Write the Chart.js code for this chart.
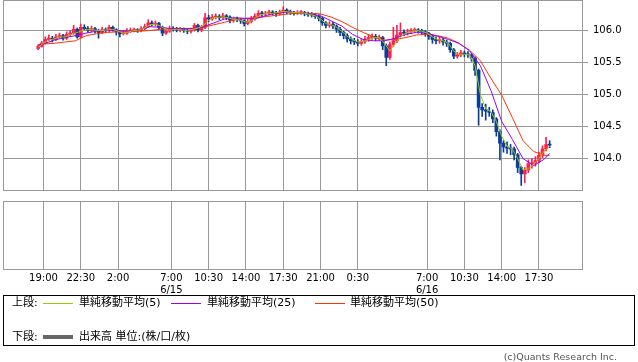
<!DOCTYPE html>
<html>
<head>
<meta charset="utf-8">
<script src="https://cdn.jsdelivr.net/npm/chart.js@4"></script>
<style>
body { margin: 0; width: 638px; height: 362px; background: #fff; position: relative; overflow: hidden; font-family: "DejaVu Sans", "Noto Sans CJK JP", sans-serif; }
canvas { position: absolute; left: 0; }
#upper { top: 0; }
#lower { top: 196px; }
#legend { position: absolute; left: 3px; top: 295px; width: 630px; height: 49px; border: 1px solid #000; }
#legend span { position: absolute; font-size: 11px; line-height: 14px; white-space: nowrap; color: #000; }
#legend i { position: absolute; display: block; width: 30px; height: 1px; }
#copy { position: absolute; right: 21px; top: 351px; font-size: 9.5px; line-height: 12px; color: #555; white-space: nowrap; }
</style>
</head>
<body>
<canvas id="upper" width="638" height="193"></canvas>
<canvas id="lower" width="638" height="100"></canvas>
<div id="legend">
  <span style="left:8px;top:0">上段:</span>
  <i style="left:39px;top:7px;background:#99cc00"></i>
  <span style="left:75px;top:0">単純移動平均(5)</span>
  <i style="left:167px;top:7px;background:#9900ff"></i>
  <span style="left:203px;top:0">単純移動平均(25)</span>
  <i style="left:311px;top:7px;background:#ff3300"></i>
  <span style="left:346px;top:0">単純移動平均(50)</span>
  <span style="left:8px;top:34px">下段:</span>
  <i style="left:39px;top:39px;height:4px;background:#666"></i>
  <span style="left:75px;top:34px">出来高 単位:(株/口/枚)</span>
</div>
<div id="copy">(c)Quants Research Inc.</div>
<script>
// 時間軸 (6/14 0:00 からの時間)
const xMin = 15.2, xMax = 69.63;
const tickHours = [19, 22.5, 26, 31, 34.5, 38, 41.5, 45, 48.5, 55, 58.5, 62, 65.5];
const tickLabels = ['19:00', '22:30', '2:00', ['7:00', '6/15'], '10:30', '14:00', '17:30', '21:00', '0:30', ['7:00', '6/16'], '10:30', '14:00', '17:30'];
const priceTicks = [104.0, 104.5, 105.0, 105.5, 106.0];
const priceMin = 103.493, priceMax = 106.477;

// 20分足 6/14 18:30 から
const candleStart = 18.5, candleStep = 1 / 3;
const firstOpen = 105.72;
const closes = [
  105.75,105.80,105.86,105.88,105.86,105.90,105.92,105.88,105.94,105.96,
  106.02,105.90,106.05,106.03,106.00,106.03,106.00,105.97,106.01,106.00,
  106.05,106.01,105.98,105.95,105.96,105.99,106.00,106.01,106.00,106.03,
  106.06,106.12,106.10,106.11,106.05,105.96,105.99,106.03,106.02,106.01,
  106.02,106.00,105.99,106.01,106.08,106.01,106.05,106.20,106.18,106.21,
  106.22,106.20,106.23,106.21,106.16,106.18,106.17,106.15,106.11,106.14,
  106.18,106.22,106.27,106.26,106.27,106.29,106.27,106.26,106.29,106.32,
  106.29,106.28,106.27,106.28,106.28,106.26,106.25,106.24,106.22,106.19,
  106.12,106.08,106.10,106.07,106.02,105.97,105.92,105.87,105.84,105.82,
  105.80,105.83,105.86,105.89,105.91,105.88,105.89,105.76,105.58,105.78,
  105.84,105.93,105.97,105.96,105.98,106.00,106.01,105.99,105.98,105.95,
  105.91,105.86,105.84,105.85,105.82,105.80,105.70,105.60,105.62,105.65,
  105.63,105.62,105.57,105.38,104.80,104.76,104.74,104.72,104.62,104.42,
  104.24,104.18,104.16,104.15,104.06,103.86,103.76,103.82,103.92,103.93,
  103.97,104.05,104.15,104.22,104.21
];
const highs = [
  105.78,105.83,105.90,105.93,105.91,105.94,105.96,105.94,105.98,106.00,
  106.08,106.04,106.10,106.09,106.06,106.07,106.05,106.02,106.05,106.04,
  106.08,106.07,106.03,106.00,106.00,106.03,106.04,106.04,106.03,106.06,
  106.10,106.17,106.15,106.15,106.13,106.07,106.02,106.07,106.06,106.05,
  106.05,106.04,106.03,106.04,106.11,106.10,106.08,106.27,106.24,106.25,
  106.26,106.25,106.27,106.25,106.23,106.21,106.21,106.19,106.17,106.18,
  106.22,106.26,106.31,106.30,106.30,106.32,106.31,106.30,106.32,106.37,
  106.34,106.32,106.30,106.31,106.31,106.30,106.29,106.28,106.27,106.25,
  106.21,106.14,106.14,106.13,106.09,106.05,105.99,105.95,105.90,105.88,
  105.86,105.87,105.91,105.94,105.95,105.94,105.93,105.91,105.79,105.82,
  106.05,106.08,106.12,106.01,106.02,106.03,106.04,106.03,106.02,106.00,
  105.97,105.93,105.90,105.90,105.88,105.85,105.82,105.72,105.66,105.69,
  105.68,105.67,105.64,105.59,105.40,104.86,104.85,104.80,104.76,104.64,
  104.45,104.28,104.26,104.22,104.18,104.08,103.88,103.86,103.98,104.00,
  104.03,104.10,104.20,104.33,104.28
];
const lows = [
  105.70,105.74,105.79,105.84,105.82,105.84,105.88,105.85,105.86,105.92,
  105.94,105.88,105.89,106.00,105.97,105.98,105.96,105.88,105.95,105.97,
  105.98,105.99,105.93,105.90,105.93,105.94,105.97,105.98,105.97,105.98,
  106.01,106.05,106.07,106.07,106.02,105.92,105.94,105.97,105.99,105.98,
  105.98,105.97,105.95,105.96,105.99,105.98,105.98,106.03,106.14,106.16,
  106.18,106.17,106.18,106.17,106.12,106.13,106.14,106.11,106.07,106.09,
  106.12,106.16,106.20,106.22,106.23,106.24,106.24,106.22,106.24,106.27,
  106.26,106.25,106.24,106.25,106.25,106.23,106.22,106.21,106.19,106.15,
  106.08,106.04,106.05,106.03,105.97,105.92,105.87,105.82,105.79,105.78,
  105.76,105.77,105.80,105.83,105.86,105.84,105.85,105.70,105.45,105.55,
  105.75,105.81,105.90,105.92,105.93,105.95,105.97,105.96,105.94,105.91,
  105.86,105.80,105.79,105.80,105.77,105.75,105.66,105.56,105.57,105.59,
  105.59,105.58,105.52,105.30,104.52,104.66,104.60,104.66,104.56,104.35,
  103.98,104.10,104.08,104.06,103.98,103.78,103.58,103.62,103.78,103.85,
  103.88,103.93,104.01,104.12,104.17
];

// 移動平均 (5は30分ごと、25/50は1時間ごとに読み取り)
const ma5Start = 18.5, ma5Step = 0.5;
const ma5 = [
  105.74,105.80,105.85,105.87,105.90,105.90,105.93,105.96,105.99,106.01,
  106.02,106.00,106.00,106.01,106.02,105.99,105.96,105.98,106.00,106.01,
  106.04,106.09,106.10,106.07,106.01,106.01,106.02,106.01,106.00,106.02,
  106.04,106.08,106.16,106.20,106.21,106.21,106.19,106.17,106.16,106.13,
  106.15,106.21,106.25,106.27,106.27,106.28,106.30,106.29,106.28,106.28,
  106.27,106.25,106.23,106.18,106.11,106.09,106.05,105.99,105.91,105.86,
  105.82,105.83,105.86,105.89,105.89,105.80,105.68,105.80,105.90,105.96,
  105.98,106.00,105.99,105.96,105.90,105.86,105.84,105.80,105.68,105.63,
  105.63,105.62,105.45,105.00,104.78,104.73,104.58,104.35,104.19,104.15,
  104.00,103.82,103.84,103.91,104.00,104.12,104.19
];
const maHours = [18.5, 19, 20, 21, 22, 23, 24, 25, 26, 27, 28, 29, 30, 31, 32, 33, 34, 35, 36, 37, 38, 39, 40, 41, 42,
  43, 44, 45, 46, 47, 48, 49, 50, 51, 52, 53, 54, 55, 56, 57, 58, 59, 60, 61, 62, 63, 64, 65, 66, 66.5];
const ma25 = [105.76,105.79,105.85,105.89,105.92,105.96,105.99,106.00,106.00,105.99,106.01,106.06,106.05,106.03,106.03,106.03,
  106.06,106.12,106.18,106.20,106.19,106.19,106.24,106.28,106.29,106.28,106.26,106.23,106.15,106.07,105.94,105.86,105.84,
  105.84,105.88,105.94,105.97,105.96,105.91,105.86,105.80,105.68,105.45,105.06,104.58,104.30,104.00,103.89,103.99,104.08];
const ma50 = [105.78,105.79,105.80,105.82,105.84,105.92,105.95,105.97,105.98,105.98,105.99,106.00,106.02,106.03,106.03,106.03,
  106.05,106.09,106.13,106.17,106.19,106.20,106.22,106.24,106.26,106.27,106.27,106.26,106.21,106.14,106.05,105.97,105.90,
  105.85,105.86,105.89,105.93,105.94,105.92,105.88,105.80,105.69,105.53,105.25,104.99,104.64,104.28,104.11,104.05,104.05];

const UP = '#ff2050', DOWN = '#0b3c9c', GRID = '#999';
const tickFont = { family: 'DejaVu Sans', size: 10 };

const candleTimes = closes.map((c, i) => candleStart + i * candleStep);
const opens = closes.map((c, i) => i === 0 ? firstOpen : closes[i - 1]);
const candleColors = closes.map((c, i) => c >= opens[i] ? UP : DOWN);

const framePlugin = {
  id: 'frame',
  afterDraw(chart) {
    const { ctx, chartArea: a } = chart;
    ctx.save();
    ctx.strokeStyle = GRID;
    ctx.lineWidth = 1;
    ctx.strokeRect(Math.round(a.left) + 0.5, Math.round(a.top) + 0.5, Math.round(a.right - a.left) - 1, Math.round(a.bottom - a.top) - 1);
    ctx.restore();
  }
};

function lineSet(label, xs, ys, color, order) {
  return { type: 'line', label, data: ys.map((v, i) => ({ x: xs[i], y: v })), borderColor: color, borderWidth: 1,
    pointRadius: 0, tension: 0, fill: false, order };
}

const xAxisBase = {
  type: 'linear', min: xMin, max: xMax, offset: false,
  afterBuildTicks: (s) => { s.ticks = tickHours.map(v => ({ value: v })); },
  border: { display: false }
};

// 上段
new Chart(document.getElementById('upper'), {
  type: 'bar',
  data: {
    datasets: [
      lineSet('MA5', ma5.map((v, i) => ma5Start + i * ma5Step), ma5, '#99cc00', 0),
      lineSet('MA25', maHours, ma25, '#9900ff', 1),
      lineSet('MA50', maHours, ma50, '#ff3300', 2),
      { label: 'body', data: closes.map((c, i) => ({ x: candleTimes[i], y: [opens[i], c] })), backgroundColor: candleColors,
        barThickness: 3, minBarLength: 1, grouped: false, order: 3 },
      { label: 'wick', data: closes.map((c, i) => ({ x: candleTimes[i], y: [lows[i], highs[i]] })), backgroundColor: candleColors,
        barThickness: 1, grouped: false, order: 4 }
    ]
  },
  options: {
    responsive: false, animation: false, devicePixelRatio: 1,
    layout: { padding: { left: 3, top: 0, right: 0, bottom: 0 } },
    plugins: { legend: { display: false }, tooltip: { enabled: false } },
    scales: {
      x: Object.assign({}, xAxisBase, {
        ticks: { display: false },
        grid: { color: GRID, drawTicks: false, offset: false },
        afterFit: (s) => { s.height = 2; s.paddingLeft = 0; s.paddingRight = 0; }
      }),
      y: {
        type: 'linear', position: 'right', min: priceMin, max: priceMax,
        afterBuildTicks: (s) => { s.ticks = priceTicks.map(v => ({ value: v })); },
        afterFit: (s) => { s.width = 55; s.paddingTop = 0; s.paddingBottom = 0; },
        ticks: { font: tickFont, color: '#000', padding: 5, callback: v => v.toFixed(1) },
        grid: { color: GRID, tickLength: 5, offset: false },
        border: { display: false }
      }
    }
  },
  plugins: [framePlugin]
});

// 下段 (出来高なし)
new Chart(document.getElementById('lower'), {
  type: 'bar',
  data: { datasets: [] },
  options: {
    responsive: false, animation: false, devicePixelRatio: 1,
    layout: { padding: { left: 3, top: 5, right: 0, bottom: 0 } },
    plugins: { legend: { display: false }, tooltip: { enabled: false } },
    scales: {
      x: Object.assign({}, xAxisBase, {
        ticks: { font: tickFont, color: '#000', padding: 2, maxRotation: 0, autoSkip: false,
          callback: (v, i) => tickLabels[i] },
        grid: { color: GRID, drawTicks: false, offset: false },
        afterFit: (s) => { s.height = 26; s.paddingLeft = 0; s.paddingRight = 0; }
      }),
      y: {
        type: 'linear', position: 'right', min: 0, max: 1,
        afterFit: (s) => { s.width = 55; },
        ticks: { display: false },
        grid: { display: false },
        border: { display: false }
      }
    }
  },
  plugins: [framePlugin]
});
</script>
</body>
</html>
